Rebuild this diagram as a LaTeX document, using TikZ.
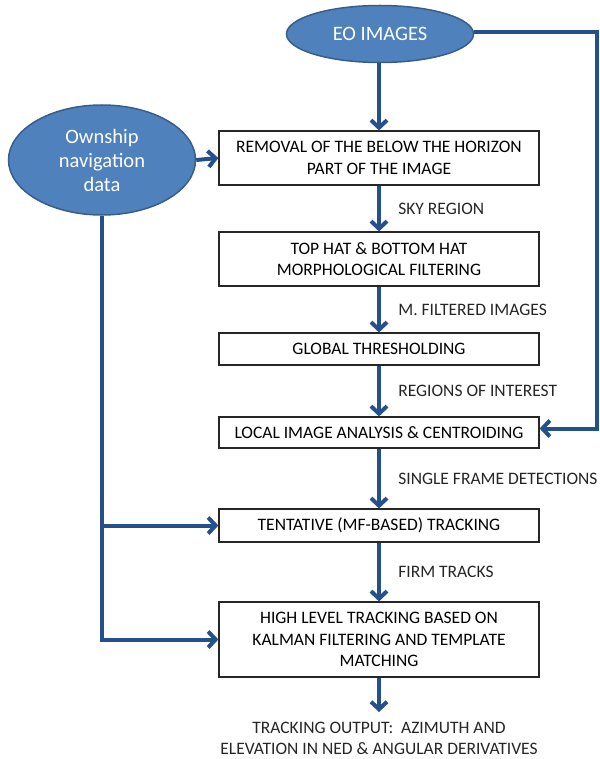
\documentclass[tikz,border=0pt]{standalone}
\usepackage{fontspec}
\setmainfont{Carlito}
\usetikzlibrary{shapes.geometric,arrows.meta,positioning,calc}
\definecolor{ellfill}{HTML}{4F81BD}
\definecolor{elldraw}{HTML}{385D8A}
\definecolor{flow}{HTML}{24508C}

\begin{document}
\begin{tikzpicture}[x=1pt, y=-1pt,
  src/.style={ellipse, draw=elldraw, line width=1.5pt, fill=ellfill, text=white, inner sep=0pt,
    minimum width=187pt, align=center, font=\fontsize{20.5}{24}\selectfont},
  box/.style={rectangle, draw=black!85, line width=1.2pt, minimum width=320pt, inner sep=0pt,
    align=center, font=\fontsize{17.5}{21.5}\selectfont},
  lbl/.style={right=14pt, text=black!85, font=\fontsize{17.5}{21.5}\selectfont},
  line/.style={flow, line width=4pt},
  arr/.style={line, -{Straight Barb[length=7.5pt, width=16pt]}}
]
  \useasboundingbox (0,0) rectangle (599,759);

  \node[src, minimum height=57pt] (eo) at (380,34) {EO IMAGES};
  \node[src, minimum height=110pt] (own) at (102,160) {Ownship\\navigation\\data};

  \node[box, minimum height=54pt] (removal) at (379,158) {REMOVAL OF THE BELOW THE HORIZON\\PART OF THE IMAGE};
  \node[box, minimum height=54pt] (morph) at (379,259) {TOP HAT \& BOTTOM HAT\\MORPHOLOGICAL FILTERING};
  \node[box, minimum height=32pt] (thresh) at (379,349) {GLOBAL THRESHOLDING};
  \node[box, minimum height=31pt] (local) at (379,432.5) {LOCAL IMAGE ANALYSIS \& CENTROIDING};
  \node[box, minimum height=33pt] (tent) at (379,525.5) {TENTATIVE (MF-BASED) TRACKING};
  \node[box, minimum height=75pt] (high) at (379,639.5) {HIGH LEVEL TRACKING BASED ON\\KALMAN FILTERING AND TEMPLATE\\MATCHING};
  \node[align=center, anchor=north, inner sep=0pt, text=black!85, font=\fontsize{17.5}{20.5}\selectfont] (out) at (379,722)
    {TRACKING OUTPUT:~ AZIMUTH AND\\ELEVATION IN NED \& ANGULAR DERIVATIVES};
  \coordinate (rt) at (597,32);

  % main flow
  \draw[arr] (eo.south -| removal.north) -- (removal.north);
  \draw[arr] (removal) -- node[lbl] {SKY REGION} (morph);
  \draw[arr] (morph) -- node[lbl] {M. FILTERED IMAGES} (thresh);
  \draw[arr] (thresh) -- node[lbl] {REGIONS OF INTEREST} (local);
  \draw[arr] (local) -- node[lbl] {SINGLE FRAME DETECTIONS} (tent);
  \draw[arr] (tent) -- node[lbl] {FIRM TRACKS} (high);
  \draw[arr] (high.south) -- ([yshift=10pt]out.north);

  % side inputs
  \draw[arr] (own.east) -- (removal.west);
  \draw[arr] (eo.east |- rt) -- (rt) -- ($(rt |- local.east)+(0,-4)$) -- ($(local.east)+(0,-4)$);
  \draw[arr] (own.south) |- (high.west);
  \draw[arr] (own.south |- tent.west) -- (tent.west);
\end{tikzpicture}
\end{document}
